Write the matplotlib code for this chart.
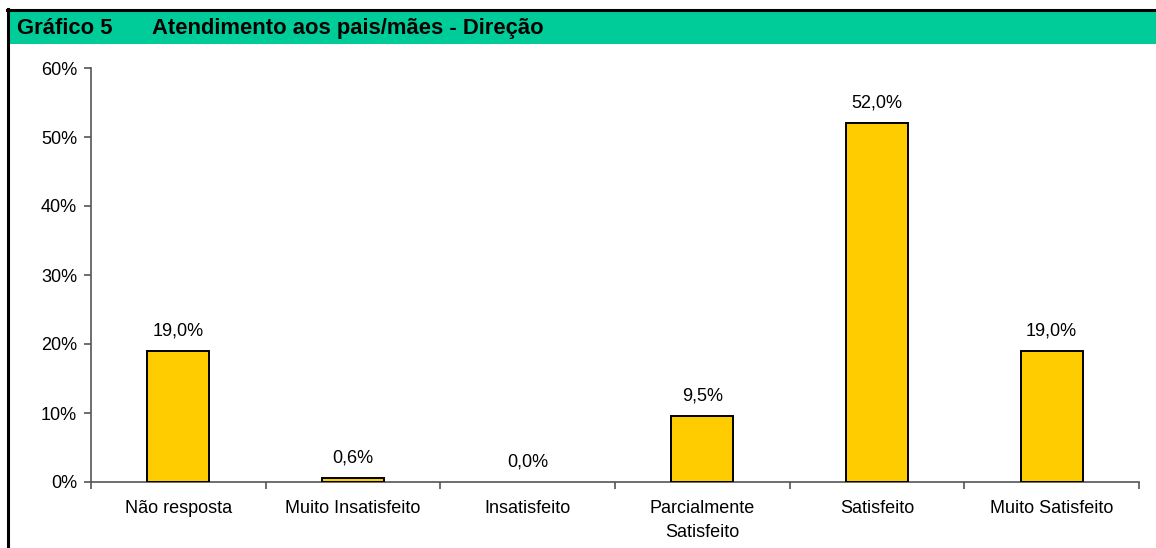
import matplotlib.pyplot as plt
import numpy as np
from matplotlib.patches import Rectangle
from matplotlib.lines import Line2D

categories = ['Não resposta', 'Muito Insatisfeito', 'Insatisfeito',
              'Parcialmente\nSatisfeito', 'Satisfeito', 'Muito Satisfeito']
values = [19.0, 0.6, 0.0, 9.5, 52.0, 19.0]
yticks = [0, 10, 20, 30, 40, 50, 60]

plt.rcParams['font.family'] = ['Liberation Sans', 'DejaVu Sans']

fig = plt.figure(figsize=(11.56, 5.48), dpi=100)
W, H = 1156, 548

# title bar
fig.patches.append(Rectangle((9 / W, 1 - 44 / H), 1, 33 / H, transform=fig.transFigure,
                             facecolor='#00CC99', edgecolor='none'))
fig.lines.append(Line2D([7 / W, 1], [1 - 9.5 / H] * 2, transform=fig.transFigure,
                        color='black', linewidth=2.2))
fig.lines.append(Line2D([8 / W] * 2, [0, 1 - 9 / H], transform=fig.transFigure,
                        color='black', linewidth=2.2))
fig.text(17 / W, 1 - 28.5 / H, 'Gráfico 5', fontsize=15.8, fontweight='bold', va='center')
fig.text(152 / W, 1 - 28.5 / H, 'Atendimento aos pais/mães - Direção', fontsize=15.8,
         fontweight='bold', va='center')

ax = fig.add_axes([91 / W, 1 - 482 / H, (1139 - 91) / W, (482 - 68) / H])
x = np.arange(len(categories))
# empty bars get no outline (as in the original)
lw = [1.4 if v > 0 else 0 for v in values]
ax.bar(x, values, width=0.355, color='#FFCC00', edgecolor='black', linewidth=lw, zorder=3)

for xi, v in zip(x, values):
    ax.text(xi, v + 1.7, f'{v:.1f}%'.replace('.', ','), ha='center', va='bottom', fontsize=13)

ax.set_xlim(-0.5, len(categories) - 0.5)
ax.set_ylim(0, 60)
ax.set_yticks(yticks)
ax.set_yticklabels([f'{t}%' for t in yticks], fontsize=13)
ax.set_xticks(x)
ax.set_xticklabels(categories, fontsize=13, linespacing=1.55)
ax.set_xticks(np.arange(len(categories) + 1) - 0.5, minor=True)
ax.tick_params(axis='x', which='major', length=0, pad=13)
ax.tick_params(axis='x', which='minor', length=5, width=1.2, color='#555555')
ax.tick_params(axis='y', length=5, width=1.2, color='#555555', pad=5)

for s in ['top', 'right']:
    ax.spines[s].set_visible(False)
for s in ['left', 'bottom']:
    ax.spines[s].set_color('#555555')
    ax.spines[s].set_linewidth(1.2)

fig.savefig('out.png', dpi=100)
